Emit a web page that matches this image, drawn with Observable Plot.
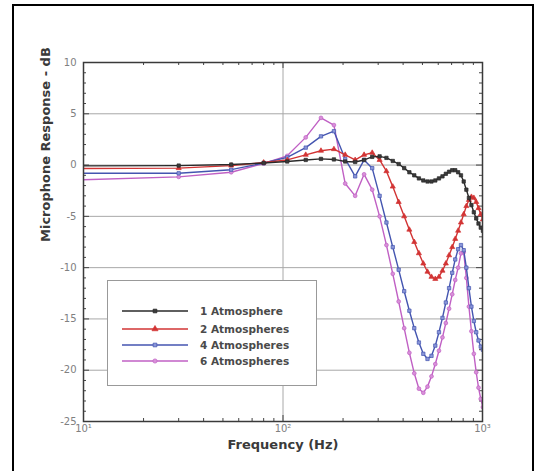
<!DOCTYPE html>
<html><head><meta charset="utf-8">
<script src="https://cdn.jsdelivr.net/npm/d3@7"></script>
<script src="https://cdn.jsdelivr.net/npm/@observablehq/plot@0.6"></script>
<style>
body{margin:0;background:#fff;}
#wrap{position:relative;width:539px;height:471px;overflow:hidden;background:#fff;}
#border{position:absolute;left:12px;top:4px;width:518px;height:480px;border:2px solid #000;pointer-events:none;}
#legend{position:absolute;left:107px;top:280px;width:208px;height:104px;border:1px solid #999;background:#fff;font-family:"DejaVu Sans",sans-serif;font-weight:bold;font-size:10.5px;color:#4a4a4a;}
.row{position:absolute;left:14px;height:16px;display:flex;align-items:center;}
.row svg{display:block;}
.row span{margin-left:12px;white-space:nowrap;}
</style></head><body>
<div id="wrap"><div id="chart"></div><div id="legend"></div><div id="border"></div></div>
<script>
// Frequencies (Hz) of the sample points
const freq = [5,30,55,80,105,130,155,180,205,230,255,280,305,330,355,380,405,430,455,480,505,530,555,580,605,630,655,680,705,730,755,780,805,830,855,880,905,930,955,980,1005];
// Microphone response (dB) per pressure
const atm1 = [-0.1,-0.05,0.05,0.2,0.35,0.5,0.6,0.55,0.35,0.3,0.5,0.8,0.85,0.7,0.4,0.1,-0.3,-0.7,-1.0,-1.3,-1.5,-1.6,-1.6,-1.5,-1.3,-1.1,-0.85,-0.65,-0.5,-0.5,-0.7,-1.0,-1.6,-2.4,-3.2,-3.9,-4.6,-5.2,-5.7,-6.1,-6.4];
const atm2 = [-0.35,-0.3,-0.05,0.25,0.5,1.0,1.4,1.55,1.0,0.5,1.0,1.2,0.5,-0.6,-2.1,-3.6,-5.0,-6.3,-7.5,-8.6,-9.6,-10.4,-10.9,-11.1,-10.9,-10.3,-9.6,-8.8,-8.0,-7.2,-6.4,-5.6,-4.8,-4.0,-3.4,-3.1,-3.2,-3.6,-4.2,-4.8,-5.3];
const atm4 = [-0.8,-0.8,-0.45,0.2,0.75,1.7,2.8,3.3,0.6,-1.1,0.5,-0.3,-3.0,-5.6,-8.0,-10.2,-12.3,-14.2,-15.9,-17.3,-18.4,-18.9,-18.6,-17.6,-16.3,-14.9,-13.4,-12.0,-10.5,-9.2,-8.2,-7.8,-8.3,-10.0,-12.0,-13.8,-15.2,-16.3,-17.1,-17.7,-18.0];
const atm6 = [-1.6,-1.15,-0.7,0.15,0.9,2.7,4.6,3.9,-1.8,-3.0,-0.9,-2.4,-5.0,-7.8,-10.6,-13.3,-15.9,-18.3,-20.3,-21.8,-22.2,-21.6,-20.6,-19.4,-18.1,-16.8,-15.4,-14.0,-12.6,-11.2,-10.0,-8.6,-8.5,-11.0,-13.8,-16.2,-18.4,-20.2,-21.7,-22.8,-23.6];

const seriesNames = ["1 Atmosphere","2 Atmospheres","4 Atmospheres","6 Atmospheres"];
const seriesValues = [atm1, atm2, atm4, atm6];
const seriesColors = ["#2a2a2a","#d23434","#4455b0","#c060c4"];
const seriesFills = ["#3a3a3a","#d23434","#8a96d8","#d890d8"];
const seriesSymbols = ["square","triangle","square","circle"];

const majorY = [-25,-20,-15,-10,-5,0,5,10];
const minorY = [-24,-23,-22,-21,-19,-18,-17,-16,-14,-13,-12,-11,-9,-8,-7,-6,-4,-3,-2,-1,1,2,3,4,6,7,8,9];
const gridY = [-20,-15,-10,-5,0,5];
const majorX = [10,100,1000];
const majorXLabels = ["10\u00b9","10\u00b2","10\u00b3"];
const minorX = [20,30,40,50,60,70,80,90,200,300,400,500,600,700,800,900];
const gridX = [100];

const W = 539, H = 471, mL = 83, mR = 57, mT = 62, mB = 50;
const pw = W - mL - mR, ph = H - mT - mB;

const tables = seriesValues.map((vals, i) => freq.map((f, j) => ({f, v: vals[j], s: seriesNames[i]})));

const dataMarks = [];
for (const i of [3,2,1,0]) {
  dataMarks.push(Plot.line(tables[i], {x: "f", y: "v", stroke: seriesColors[i], strokeWidth: 1.4, clip: true}));
  dataMarks.push(Plot.dot(tables[i], {x: "f", y: "v", symbol: seriesSymbols[i], r: i === 1 ? 1.9 : 1.9, fill: seriesFills[i], stroke: seriesColors[i], strokeWidth: 0.7, clip: true}));
}

const tickStroke = "#444";
const chart = Plot.plot({
  width: W, height: H,
  marginLeft: mL, marginRight: mR, marginTop: mT, marginBottom: mB,
  style: {fontFamily: "DejaVu Sans", fontSize: "10px", color: "#808080", background: "transparent"},
  x: {type: "log", domain: [10, 1000]},
  y: {domain: [-25, 10]},
  marks: [
    Plot.ruleY(gridY, {y: d => d, stroke: "#a8a8a8", strokeWidth: 1}),
    Plot.ruleX(gridX, {x: d => d, stroke: "#a8a8a8", strokeWidth: 1}),
    Plot.tickY(minorY, {y: d => d, insetRight: pw - 3, stroke: tickStroke}),
    Plot.tickY(minorY, {y: d => d, insetLeft: pw - 3, stroke: tickStroke}),
    Plot.tickY(majorY, {y: d => d, insetRight: pw - 6, stroke: tickStroke}),
    Plot.tickY(majorY, {y: d => d, insetLeft: pw - 6, stroke: tickStroke}),
    Plot.tickX(minorX, {x: d => d, insetTop: ph - 3, stroke: tickStroke}),
    Plot.tickX(minorX, {x: d => d, insetBottom: ph - 3, stroke: tickStroke}),
    Plot.tickX(majorX, {x: d => d, insetTop: ph - 6, stroke: tickStroke}),
    Plot.tickX(majorX, {x: d => d, insetBottom: ph - 6, stroke: tickStroke}),
    ...dataMarks,
    Plot.frame({stroke: "#3a3a3a", strokeWidth: 1.5}),
    Plot.axisY(majorY, {tickSize: 0, tickPadding: 7, label: null, tickFormat: d => String(d)}),
    Plot.axisX(majorX, {tickSize: 0, tickPadding: 3, label: null, tickFormat: d => majorXLabels[majorX.indexOf(d)]}),
    Plot.text(["Microphone Response - dB"], {frameAnchor: "left", dx: -38, rotate: -90, fontSize: 13, fontWeight: "bold", fill: "#3a3a3a", fontFamily: "DejaVu Sans"}),
    Plot.text(["Frequency (Hz)"], {frameAnchor: "bottom", dy: 27, fontSize: 13, fontWeight: "bold", fill: "#3a3a3a", fontFamily: "DejaVu Sans"})
  ]
});
document.getElementById("chart").appendChild(chart);

// Legend
const legend = document.getElementById("legend");
const rowTops = [22, 39.5, 55.5, 72];
seriesNames.forEach((name, i) => {
  const row = document.createElement("div");
  row.className = "row";
  row.style.top = rowTops[i] + "px";
  const sym = d3.symbol(i === 1 ? d3.symbolTriangle : i === 3 ? d3.symbolCircle : d3.symbolSquare, i === 1 ? 16 : 14)();
  row.innerHTML = `<svg width="66" height="16"><line x1="0" x2="66" y1="8" y2="8" stroke="${seriesColors[i]}" stroke-width="1.4"/><path d="${sym}" transform="translate(33,8)" fill="${seriesFills[i]}" stroke="${seriesColors[i]}" stroke-width="0.7"/></svg><span>${name}</span>`;
  legend.appendChild(row);
});
</script>
</body></html>
